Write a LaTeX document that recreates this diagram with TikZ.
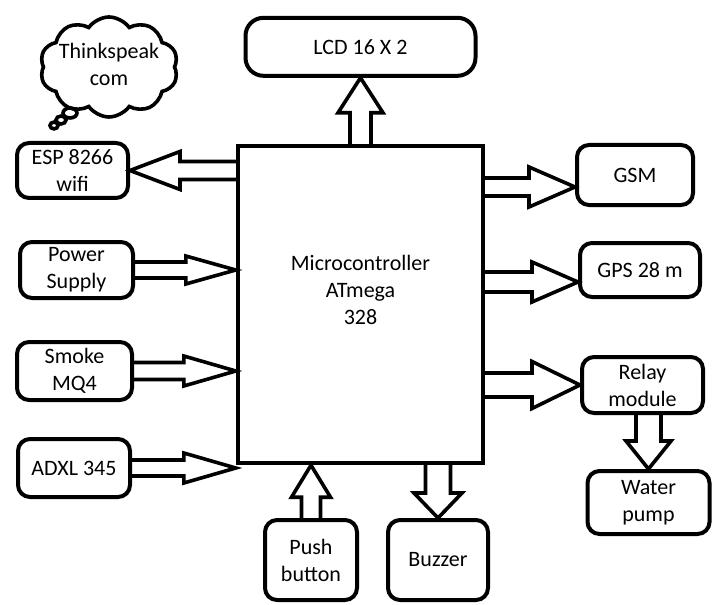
\documentclass[tikz,border=0pt]{standalone}
\usepackage{fontspec}
\setmainfont{Carlito}
\usetikzlibrary{positioning,calc,shapes.symbols}
\tikzset{
 block/.style={draw, line width=2pt, rounded corners=6pt, align=center, inner sep=2pt},
 mcubox/.style={draw, line width=2.2pt, minimum width=122.5pt, minimum height=158.5pt},
 lcdbox/.style={block, rounded corners=9pt, minimum width=115pt, minimum height=29pt},
 cloudbox/.style={draw, cloud, cloud puffs=10, cloud puff arc=110, cloud ignores aspect, line width=1.8pt, minimum width=69pt, minimum height=50pt},
 bubble/.style={draw, line width=1.8pt},
 fat/.style n args={3}{draw, line width=1.8pt, line join=miter,
  to path={
   ($(\tikztotarget)!#3!(\tikztostart)$) coordinate (fb)
   ($(\tikztostart)!#1!90:(\tikztotarget)$) -- ($(fb)!#1!90:(\tikztotarget)$)
   -- ($(fb)!#2!90:(\tikztotarget)$) -- (\tikztotarget)
   -- ($(fb)!#2!-90:(\tikztotarget)$) -- ($(fb)!#1!-90:(\tikztotarget)$)
   -- ($(\tikztostart)!#1!-90:(\tikztotarget)$)}}
}
\begin{document}
\begin{tikzpicture}[x=0.5pt, y=-0.5pt, font=\fontsize{11}{13.5}\selectfont]
\useasboundingbox (0,0) rectangle (716,604);
% controller and display
\node[mcubox, label={[align=center,yshift=7.25pt]center:{Microcontroller\\ATmega\\328}}] (mcu) at (360.5,304.5) {};
\node[lcdbox, above=33pt of mcu] (lcd) {LCD 16 X 2};
\node[cloudbox, label={[align=center,yshift=1.5pt]center:{Thinkspeak\\com}}] (cloud) at (109,67) {};
\draw[bubble] (70,113) ellipse (3.5pt and 2.5pt);
\draw[bubble] (61,120) ellipse (2.5pt and 2pt);
\draw[bubble] (54,125.5) ellipse (2pt and 1.7pt);
% inputs / outputs on the left
\node[block, minimum width=55.5pt, minimum height=27.5pt] (esp) at (72.5,170.5) {ESP 8266\\wifi};
\node[block, minimum width=56.5pt, minimum height=28pt] (power) at (76.5,270) {Power\\Supply};
\node[block, minimum width=57.5pt, minimum height=29pt] (smoke) at (74.5,371) {Smoke\\MQ4};
\node[block, minimum width=56pt, minimum height=29pt] (adxl) at (74,468) {ADXL 345};
% outputs on the right
\node[block, minimum width=58pt, minimum height=30pt] (gsm) at (635,175) {GSM};
\node[block, minimum width=60pt, minimum height=27pt] (gps) at (640,270) {GPS 28 m};
\node[block, minimum width=60.5pt, minimum height=28pt] (relay) at (642.5,385) {Relay\\module};
\node[block, minimum width=61pt, minimum height=31.5pt, below=27pt of relay, xshift=3pt] (water) {Water\\pump};
% bottom
\node[block, minimum width=46pt, minimum height=40pt] (push) at (311,560) {Push\\button};
\node[block, minimum width=50pt, minimum height=40pt] (buzzer) at (438,560) {Buzzer};
\coordinate (gsmin) at ([yshift=-6pt]gsm.west);
\coordinate (gpsin) at ([yshift=-6pt]gps.west);
% block arrows
\draw[fat={5.25pt}{11.25pt}{17.5pt}] (mcu.north -| lcd.south) to (lcd.south);
\draw[fat={4.5pt}{9.5pt}{25pt}] (mcu.west |- esp.east) to (esp.east);
\draw[fat={4pt}{7pt}{25pt}] (power.east) to (mcu.west |- power.east);
\draw[fat={4.25pt}{7.5pt}{26pt}] (smoke.east) to (mcu.west |- smoke.east);
\draw[fat={4pt}{7.5pt}{26pt}] (adxl.east) to (mcu.west |- adxl.east);
\draw[fat={4.5pt}{10pt}{23pt}] (mcu.east |- gsmin) to (gsmin);
\draw[fat={5pt}{10pt}{23pt}] (mcu.east |- gpsin) to (gpsin);
\draw[fat={6pt}{11.75pt}{24pt}] (mcu.east |- relay.west) to (relay.west);
\draw[fat={6.25pt}{11.25pt}{14pt}] (relay.south -| water.north) to (water.north);
\draw[fat={4.75pt}{9.75pt}{16pt}] (push.north) to (mcu.south -| push.north);
\draw[fat={6.25pt}{12pt}{12.5pt}] (mcu.south -| buzzer.north) to (buzzer.north);
\end{tikzpicture}
\end{document}
